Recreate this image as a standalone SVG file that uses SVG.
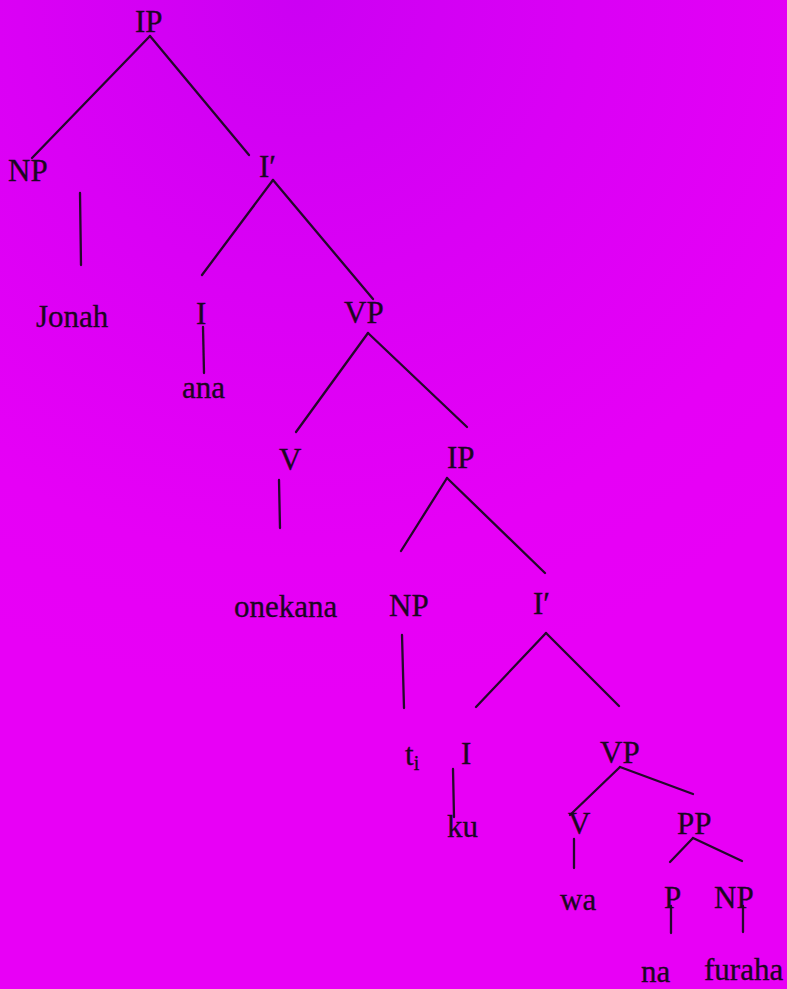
<svg xmlns="http://www.w3.org/2000/svg" width="787" height="989" viewBox="0 0 787 989">
<style>
.t{font-family:"Liberation Serif","Times New Roman",serif;font-size:31px;fill:#1c0622;stroke:#1c0622;stroke-width:0.3}
.s{font-size:20px}
.e{stroke:#24082a;stroke-width:2.3;fill:none;stroke-linecap:round}
</style>
<defs>
<radialGradient id="bg" cx="300" cy="0" r="700" gradientUnits="userSpaceOnUse">
<stop offset="0" stop-color="#cc00f3"/>
<stop offset="0.4" stop-color="#da00f5"/>
<stop offset="0.8" stop-color="#e600f6"/>
<stop offset="1" stop-color="#e800f6"/>
</radialGradient>
</defs>
<rect width="787" height="989" fill="#e600f6"/>
<rect width="787" height="989" fill="url(#bg)"/>
<g id="connectors" class="e">
<line x1="150" y1="36" x2="32" y2="158"/>
<line x1="150" y1="36" x2="249" y2="155"/>
<line x1="80" y1="193" x2="81" y2="265"/>
<line x1="273" y1="180" x2="202" y2="275"/>
<line x1="273" y1="180" x2="373" y2="299"/>
<line x1="203" y1="327" x2="204" y2="373"/>
<line x1="368" y1="333" x2="296" y2="432"/>
<line x1="368" y1="333" x2="467" y2="427"/>
<line x1="279" y1="480" x2="280" y2="528"/>
<line x1="447" y1="478" x2="401" y2="551"/>
<line x1="447" y1="478" x2="545" y2="573"/>
<line x1="402" y1="635" x2="404" y2="708"/>
<line x1="546" y1="633" x2="476" y2="707"/>
<line x1="546" y1="633" x2="619" y2="706"/>
<line x1="453" y1="769" x2="454" y2="817"/>
<line x1="620" y1="767" x2="570" y2="815"/>
<line x1="620" y1="767" x2="693" y2="794"/>
<line x1="574" y1="839" x2="574" y2="868"/>
<line x1="693" y1="838" x2="670" y2="862"/>
<line x1="693" y1="838" x2="742" y2="861"/>
<line x1="671" y1="906" x2="671" y2="933"/>
<line x1="743" y1="906" x2="743" y2="932"/>
</g>
<g id="n-ip1"><text class="t" x="135" y="32">IP</text></g>
<g id="n-np1"><text class="t" x="8" y="181">NP</text></g>
<g id="n-ibar1"><text class="t" x="259" y="177">I′</text></g>
<g id="n-jonah"><text class="t" x="36" y="327">Jonah</text></g>
<g id="n-i1"><text class="t" x="196" y="324">I</text></g>
<g id="n-ana"><text class="t" x="182" y="398">ana</text></g>
<g id="n-vp1"><text class="t" x="344" y="323">VP</text></g>
<g id="n-v1"><text class="t" x="279" y="470">V</text></g>
<g id="n-ip2"><text class="t" x="447" y="468">IP</text></g>
<g id="n-onekana"><text class="t" x="234" y="617">onekana</text></g>
<g id="n-np2"><text class="t" x="389" y="616">NP</text></g>
<g id="n-ibar2"><text class="t" x="533" y="614">I′</text></g>
<g id="n-ti"><text class="t" x="405" y="765">t<tspan class="s" dy="5">i</tspan></text></g>
<g id="n-i2"><text class="t" x="461" y="764">I</text></g>
<g id="n-ku"><text class="t" x="447" y="837">ku</text></g>
<g id="n-vp2"><text class="t" x="600" y="763">VP</text></g>
<g id="n-v2"><text class="t" x="568" y="834">V</text></g>
<g id="n-pp"><text class="t" x="677" y="834">PP</text></g>
<g id="n-wa"><text class="t" x="560" y="910">wa</text></g>
<g id="n-p"><text class="t" x="664" y="908">P</text></g>
<g id="n-np3"><text class="t" x="714" y="908">NP</text></g>
<g id="n-na"><text class="t" x="641" y="982">na</text></g>
<g id="n-furaha"><text class="t" x="704" y="980">furaha</text></g>
</svg>
